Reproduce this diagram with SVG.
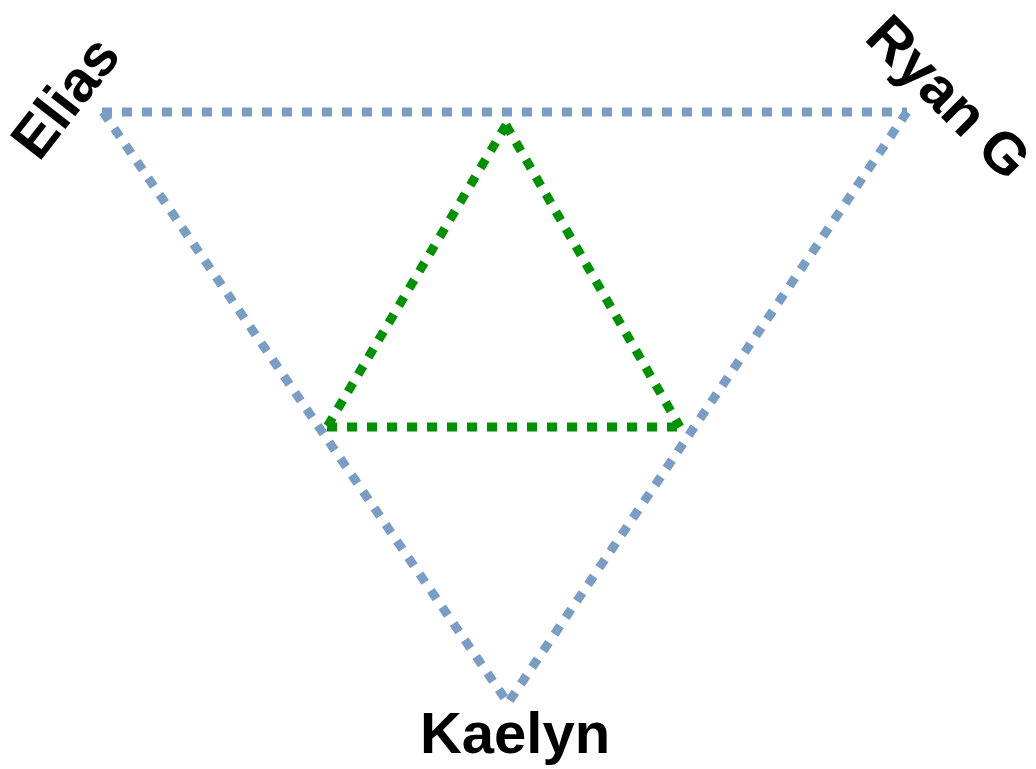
<svg xmlns="http://www.w3.org/2000/svg" width="1036" height="769" viewBox="0 0 1036 769">
<style>
.blue{fill:none;stroke:#7a9dc6;stroke-width:9;stroke-dasharray:10 10}
.green{fill:none;stroke:#009100;stroke-width:9;stroke-dasharray:10 10}
.lbl{font-family:"Liberation Sans",Arial,sans-serif;font-weight:bold;font-size:58px;fill:#000;text-anchor:middle}
</style>
<g id="connectors">
<line class="blue" x1="102" y1="112" x2="907" y2="112"/>
<line class="blue" x1="103" y1="112" x2="508" y2="703"/>
<line class="blue" x1="907" y1="112" x2="508" y2="703"/>
<line class="green" x1="506" y1="125" x2="327" y2="427"/>
<line class="green" x1="506" y1="125" x2="680" y2="427"/>
<line class="green" x1="327" y1="427" x2="680" y2="427"/>
</g>
<g id="node-elias"><text class="lbl" transform="translate(65,97) rotate(-52)" y="20" font-size="56">Elias</text></g>
<g id="node-ryan"><text class="lbl" transform="translate(949,97) rotate(45)" y="20">Ryan G</text></g>
<g id="node-kaelyn"><text class="lbl" x="515" y="753">Kaelyn</text></g>
</svg>
